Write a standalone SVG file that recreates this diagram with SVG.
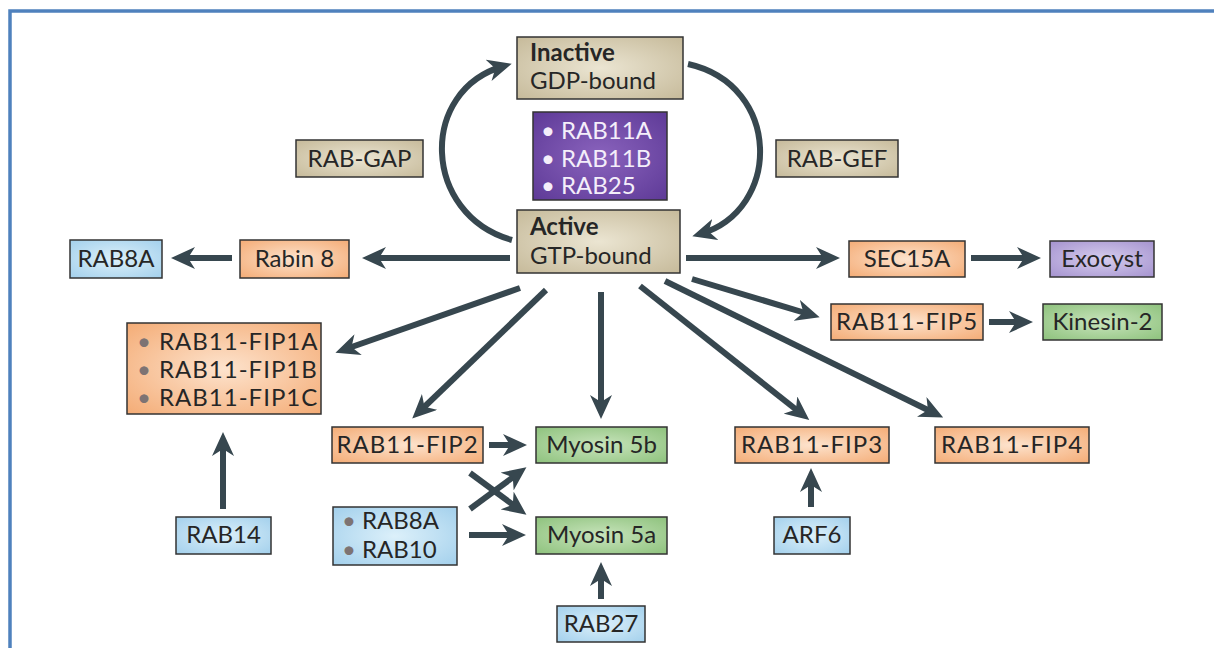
<svg xmlns="http://www.w3.org/2000/svg" width="1214" height="648" viewBox="0 0 1214 648">
<defs>
<radialGradient id="gTan" cx="0.5" cy="0.5" r="0.7"><stop offset="0" stop-color="#ebe5d2"/><stop offset="1" stop-color="#c6ba9a"/></radialGradient>
<radialGradient id="gOr" cx="0.5" cy="0.5" r="0.7"><stop offset="0" stop-color="#fde3cd"/><stop offset="1" stop-color="#f4ac76"/></radialGradient>
<radialGradient id="gBl" cx="0.5" cy="0.5" r="0.7"><stop offset="0" stop-color="#dcf0fa"/><stop offset="1" stop-color="#a3d0ec"/></radialGradient>
<radialGradient id="gGr" cx="0.5" cy="0.5" r="0.7"><stop offset="0" stop-color="#c8e4bc"/><stop offset="1" stop-color="#8ec27d"/></radialGradient>
<radialGradient id="gPu" cx="0.5" cy="0.5" r="0.7"><stop offset="0" stop-color="#8a63bd"/><stop offset="1" stop-color="#5e3a97"/></radialGradient>
<radialGradient id="gEx" cx="0.5" cy="0.5" r="0.7"><stop offset="0" stop-color="#d6cdee"/><stop offset="1" stop-color="#a593cf"/></radialGradient>
<marker id="ah" markerUnits="userSpaceOnUse" viewBox="0 0 24 22" markerWidth="24" markerHeight="22" refX="16" refY="11" orient="auto">
<path d="M0,0 L24,11 L0,22 L7,11 z" fill="#37474f"/>
</marker>
<style>
.box{stroke:#333;stroke-width:1.5}
.t{font-family:Lato,"Open Sans","Liberation Sans",sans-serif;font-size:24px;fill:#262626}
.c{text-anchor:middle}
.b{font-weight:bold}
.w{fill:#f4eefa}
.s{letter-spacing:1px}
.dot{fill:#7d7373}
.cn{fill:none;stroke:#37474f;stroke-width:6;marker-end:url(#ah)}
</style>
</defs>
<rect width="1214" height="648" fill="#ffffff"/>
<path d="M10,700 L10,11 L1220,11" fill="none" stroke="#4f81bd" stroke-width="3.5"/>

<g id="connectors">
<path class="cn" d="M512,240 C422,215 418,90 504,66"/>
<path class="cn" d="M688,64 C782,85 782,210 700,234"/>
<line class="cn" x1="510" y1="258" x2="370" y2="258"/>
<line class="cn" x1="232" y1="258" x2="179" y2="258"/>
<line class="cn" x1="686" y1="258" x2="832" y2="258"/>
<line class="cn" x1="971" y1="258" x2="1033" y2="258"/>
<line class="cn" x1="692" y1="279" x2="812" y2="315"/>
<line class="cn" x1="989" y1="322" x2="1025" y2="322"/>
<line class="cn" x1="520" y1="288" x2="343" y2="350"/>
<line class="cn" x1="546" y1="290" x2="418" y2="413"/>
<line class="cn" x1="601" y1="292" x2="601" y2="411"/>
<line class="cn" x1="640" y1="286" x2="803" y2="415"/>
<line class="cn" x1="665" y1="281" x2="936" y2="414"/>
<line class="cn" x1="489" y1="445" x2="519" y2="445"/>
<line class="cn" x1="470" y1="473" x2="520" y2="510"/>
<line class="cn" x1="470" y1="509" x2="520" y2="472"/>
<line class="cn" x1="469" y1="535" x2="518" y2="535"/>
<line class="cn" x1="601" y1="599" x2="601" y2="570"/>
<line class="cn" x1="223" y1="509" x2="223" y2="440"/>
<line class="cn" x1="811" y1="507" x2="811" y2="476"/>
</g>

<g id="inactive"><rect class="box" x="517" y="37" width="166" height="62" fill="url(#gTan)"/>
<text class="t b" x="530" y="61">Inactive</text><text class="t" x="530" y="89">GDP-bound</text></g>
<g id="rab11"><rect class="box" x="533" y="112" width="134" height="88" fill="url(#gPu)"/>
<text class="t w" x="541" y="139">• RAB11A</text><text class="t w" x="541" y="167">• RAB11B</text><text class="t w" x="541" y="194">• RAB25</text></g>
<g id="active"><rect class="box" x="517" y="210" width="163" height="63" fill="url(#gTan)"/>
<text class="t b" x="530" y="235">Active</text><text class="t" x="530" y="264">GTP-bound</text></g>
<g id="rabgap"><rect class="box" x="296" y="140" width="127" height="37" fill="url(#gTan)"/><text class="t c" x="359.5" y="167">RAB-GAP</text></g>
<g id="rabgef"><rect class="box" x="776" y="140" width="122" height="37" fill="url(#gTan)"/><text class="t c" x="837" y="167">RAB-GEF</text></g>
<g id="rab8a"><rect class="box" x="70" y="240" width="92" height="38" fill="url(#gBl)"/><text class="t c" x="116" y="267">RAB8A</text></g>
<g id="rabin8"><rect class="box" x="240" y="240" width="109" height="38" fill="url(#gOr)"/><text class="t c" x="294.5" y="267">Rabin 8</text></g>
<g id="sec15a"><rect class="box" x="849" y="241" width="116" height="36" fill="url(#gOr)"/><text class="t c" x="907" y="267">SEC15A</text></g>
<g id="exocyst"><rect class="box" x="1050" y="241" width="104" height="36" fill="url(#gEx)"/><text class="t c" x="1102" y="267">Exocyst</text></g>
<g id="fip5"><rect class="box" x="831" y="304" width="152" height="36" fill="url(#gOr)"/><text class="t c s" x="907" y="330">RAB11-FIP5</text></g>
<g id="kinesin2"><rect class="box" x="1043" y="304" width="119" height="36" fill="url(#gGr)"/><text class="t c" x="1102.5" y="330">Kinesin-2</text></g>
<g id="fip1"><rect class="box" x="127" y="323" width="194" height="91" fill="url(#gOr)"/>
<text class="t s" x="137" y="350"><tspan class="dot">•</tspan> RAB11-FIP1A</text>
<text class="t s" x="137" y="378"><tspan class="dot">•</tspan> RAB11-FIP1B</text>
<text class="t s" x="137" y="406"><tspan class="dot">•</tspan> RAB11-FIP1C</text></g>
<g id="fip2"><rect class="box" x="332" y="427" width="151" height="36" fill="url(#gOr)"/><text class="t c s" x="407.5" y="453">RAB11-FIP2</text></g>
<g id="myosin5b"><rect class="box" x="536" y="427" width="131" height="36" fill="url(#gGr)"/><text class="t c" x="601.5" y="453">Myosin 5b</text></g>
<g id="fip3"><rect class="box" x="735" y="427" width="154" height="36" fill="url(#gOr)"/><text class="t c s" x="812" y="453">RAB11-FIP3</text></g>
<g id="fip4"><rect class="box" x="935" y="427" width="154" height="36" fill="url(#gOr)"/><text class="t c s" x="1012" y="453">RAB11-FIP4</text></g>
<g id="rab8a10"><rect class="box" x="333" y="507" width="124" height="58" fill="url(#gBl)"/>
<text class="t" x="342" y="529"><tspan class="dot">•</tspan> RAB8A</text>
<text class="t" x="342" y="558"><tspan class="dot">•</tspan> RAB10</text></g>
<g id="myosin5a"><rect class="box" x="536" y="517" width="131" height="37" fill="url(#gGr)"/><text class="t c" x="601.5" y="543">Myosin 5a</text></g>
<g id="rab14"><rect class="box" x="176" y="517" width="95" height="37" fill="url(#gBl)"/><text class="t c" x="223.5" y="543">RAB14</text></g>
<g id="arf6"><rect class="box" x="774" y="517" width="76" height="37" fill="url(#gBl)"/><text class="t c" x="812" y="543">ARF6</text></g>
<g id="rab27"><rect class="box" x="557" y="606" width="88" height="36" fill="url(#gBl)"/><text class="t c" x="601" y="632">RAB27</text></g>
</svg>
